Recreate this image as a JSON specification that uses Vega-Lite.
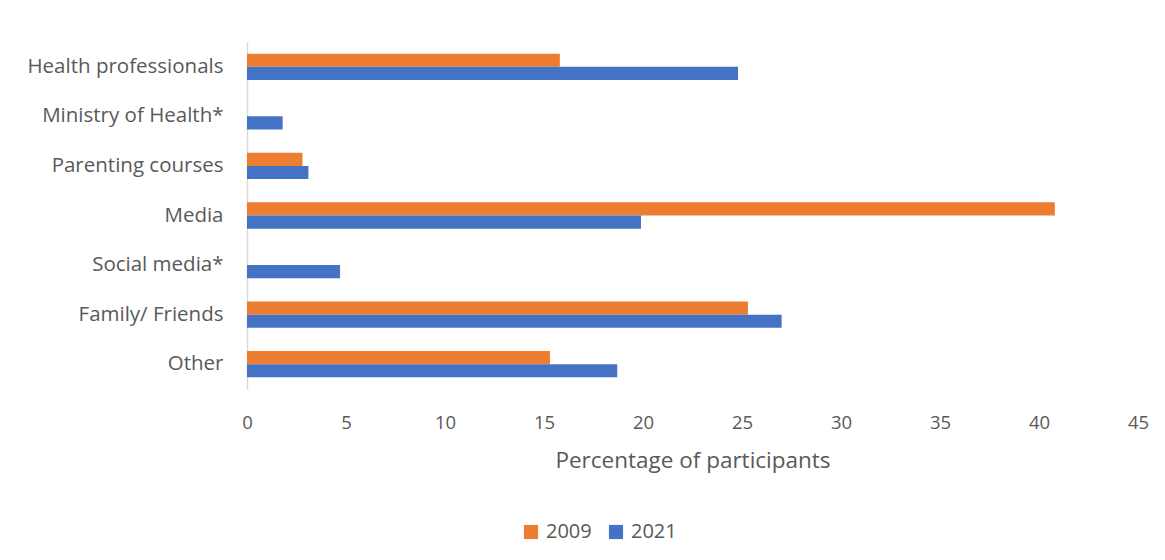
{
  "$schema": "https://vega.github.io/schema/vega-lite/v6.json",
  "width": 891,
  "height": 347,
  "padding": {"left": 10, "top": 42, "right": 27, "bottom": 10},
  "background": "white",
  "config": {
    "view": {"stroke": null},
    "font": "Open Sans",
    "axis": {"labelColor": "#595959", "titleColor": "#595959", "labelFont": "Open Sans", "titleFont": "Open Sans"},
    "legend": {"labelColor": "#595959", "labelFont": "Open Sans"}
  },
  "data": {
    "values": [
      {"source": "Health professionals", "year": "2009", "pct": 15.8},
      {"source": "Health professionals", "year": "2021", "pct": 24.8},
      {"source": "Ministry of Health*", "year": "2021", "pct": 1.8},
      {"source": "Parenting courses", "year": "2009", "pct": 2.8},
      {"source": "Parenting courses", "year": "2021", "pct": 3.1},
      {"source": "Media", "year": "2009", "pct": 40.8},
      {"source": "Media", "year": "2021", "pct": 19.9},
      {"source": "Social media*", "year": "2021", "pct": 4.7},
      {"source": "Family/ Friends", "year": "2009", "pct": 25.3},
      {"source": "Family/ Friends", "year": "2021", "pct": 27.0},
      {"source": "Other", "year": "2009", "pct": 15.3},
      {"source": "Other", "year": "2021", "pct": 18.7}
    ]
  },
  "mark": {"type": "bar"},
  "encoding": {
    "y": {
      "field": "source",
      "type": "nominal",
      "sort": ["Health professionals", "Ministry of Health*", "Parenting courses", "Media", "Social media*", "Family/ Friends", "Other"],
      "scale": {"paddingInner": 0.47, "paddingOuter": 0.235},
      "axis": {
        "title": null,
        "ticks": false,
        "domain": true,
        "domainColor": "#D9D9D9",
        "domainWidth": 1.5,
        "labelFontSize": 20.5,
        "labelPadding": 24,
        "minExtent": 237,
        "maxExtent": 237,
        "labelLimit": 300
      }
    },
    "yOffset": {
      "field": "year",
      "type": "nominal",
      "sort": ["2009", "2021"],
      "scale": {"paddingInner": 0, "paddingOuter": 0}
    },
    "x": {
      "field": "pct",
      "type": "quantitative",
      "scale": {"domain": [0, 45], "nice": false},
      "axis": {
        "title": "Percentage of participants",
        "titleFontSize": 22.5,
        "titleFontWeight": "normal",
        "titlePadding": 18,
        "values": [0, 5, 10, 15, 20, 25, 30, 35, 40, 45],
        "grid": false,
        "domain": false,
        "ticks": false,
        "labelFlush": false,
        "labelFontSize": 18.5,
        "labelPadding": 24
      }
    },
    "color": {
      "field": "year",
      "type": "nominal",
      "scale": {"domain": ["2009", "2021"], "range": ["#ED7D31", "#4472C4"]},
      "legend": {
        "title": null,
        "orient": "none",
        "direction": "horizontal",
        "legendX": 274,
        "legendY": 480,
        "symbolType": "square",
        "symbolSize": 200,
        "symbolStrokeWidth": 0,
        "labelFontSize": 20,
        "columnPadding": 14,
        "labelOffset": 5
      }
    }
  }
}
